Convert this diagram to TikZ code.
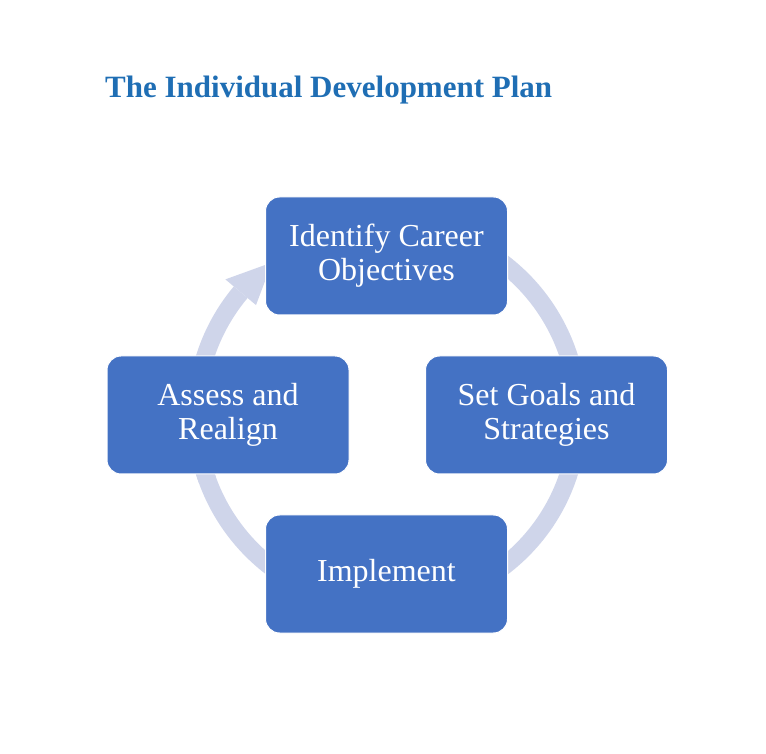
\documentclass[tikz,border=0pt]{standalone}
\usepackage{fontspec}
\setmainfont{Liberation Serif}
\usetikzlibrary{arrows.meta}
\definecolor{boxblue}{RGB}{68,114,196}
\definecolor{ringc}{RGB}{207,213,234}
\definecolor{titleblue}{RGB}{31,110,180}
\begin{document}
\begin{tikzpicture}[x=1pt,y=1pt,
  stepbox/.style={draw=white,line width=1pt,fill=boxblue,rounded corners=14pt,minimum width=242pt,minimum height=118pt,text=white,align=center,font=\fontsize{32}{34}\selectfont},
  ring/.style={ringc,line width=18pt}]
\useasboundingbox (0,0) rectangle (766,753);
\coordinate (c) at (387,338);
\draw[ring] ([shift={(200:191)}]c) arc[start angle=200,end angle=140,radius=191];
\fill[ringc] ([shift={(127:191)}]c) -- ([shift={(140:211)}]c) -- ([shift={(140:171)}]c) -- cycle;
\draw[ring] ([shift={(80:191)}]c) arc[start angle=80,end angle=-10,radius=191];
\draw[ring] ([shift={(-10:191)}]c) arc[start angle=-10,end angle=-100,radius=191];
\draw[ring] ([shift={(-100:191)}]c) arc[start angle=-100,end angle=-190,radius=191];
\node[stepbox] (top) at (386.5,497) {Identify Career\\Objectives};
\node[stepbox] (right) at (546.5,338) {Set Goals and\\Strategies};
\node[stepbox] (bottom) at (386.5,179) {Implement};
\node[stepbox] (left) at (228,338) {Assess and\\Realign};
\node[anchor=west,text=titleblue,font=\fontsize{31}{34}\selectfont\bfseries,inner sep=0pt] (title) at (105,663) {The Individual Development Plan};
\end{tikzpicture}
\end{document}
